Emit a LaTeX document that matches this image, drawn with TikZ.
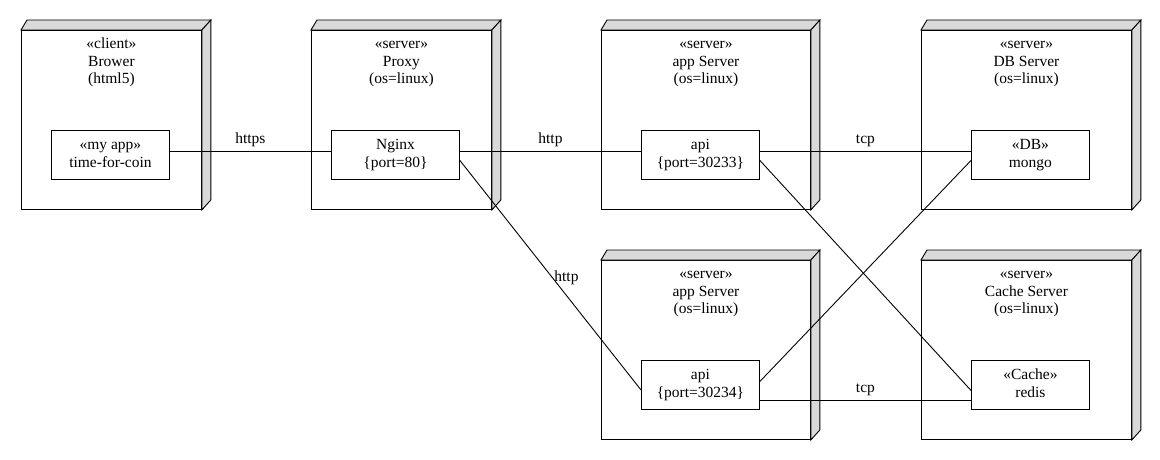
\documentclass[tikz,border=0pt]{standalone}
\usepackage{fontspec}
\setmainfont{Liberation Serif}
\begin{document}
\begin{tikzpicture}[x=1pt,y=-1pt,line width=0.9pt,
  front/.style={draw, fill=white, inner sep=0pt, rectangle},
  side/.style={draw, fill=gray!30, line join=miter},
  title/.style={inner sep=0pt, align=center, anchor=north, font=\fontsize{15.5}{17.5}\selectfont},
  artifact/.style={draw, fill=white, rectangle, inner sep=0pt, align=center, minimum height=49pt, minimum width=118pt, anchor=north west, font=\fontsize{15.5}{17.5}\selectfont},
  conn/.style={draw, line width=0.9pt},
  elabel/.style={inner sep=0pt, font=\fontsize{15.5}{17.5}\selectfont}
]
\useasboundingbox (0,0) rectangle (1160,460);
\fill[white] (0,0) rectangle (1160,460);

\newcommand\depbox[6]{%
  \node[front, minimum width=#4pt, minimum height=#5pt, anchor=north west] (#1) at (#2,#3) {};
  \path[side] (#1.north west) -- ++(6,-10) -- ([shift={(9,-10)}]#1.north east) -- (#1.north east) -- cycle;
  \path[side] (#1.north east) -- ([shift={(9,-10)}]#1.north east) -- ([shift={(9,-10)}]#1.south east) -- (#1.south east) -- cycle;
  \node[title, yshift=-6.25pt] (#1t) at (#1.north) {#6};
}

\depbox{b1}{21}{30}{180}{179}{\strut«client»\\\strut Brower\\\strut(html5)}
\depbox{b2}{311}{30}{180}{179}{\strut«server»\\\strut Proxy\\\strut(os=linux)}
\depbox{b3}{601}{30}{209}{179}{\strut«server»\\\strut app Server\\\strut(os=linux)}
\depbox{b4}{921}{30}{210}{179}{\strut«server»\\\strut DB Server\\\strut(os=linux)}
\depbox{b5}{601}{260}{209}{179}{\strut«server»\\\strut app Server\\\strut(os=linux)}
\depbox{b6}{921}{260}{210}{179}{\strut«server»\\\strut Cache Server\\\strut(os=linux)}

\node[artifact] (c1) at (51,130) {\strut«my app»\\\strut time-for-coin};
\node[artifact, minimum width=128pt] (ng) at (331,130) {\strut Nginx\\\strut\{port=80\}};
\node[artifact] (api1) at (641,130) {\strut api\\\strut\{port=30233\}};
\node[artifact] (mongo) at (971,130) {\strut«DB»\\\strut mongo};
\node[artifact] (api2) at (641,360) {\strut api\\\strut\{port=30234\}};
\node[artifact] (redis) at (971,360) {\strut«Cache»\\\strut redis};

\draw[conn] ([yshift=3.5pt]c1.east) -- node[elabel, midway, above=4pt] {https} ([yshift=3.5pt]ng.west);
\draw[conn] ([yshift=3.5pt]ng.east) -- node[elabel, midway, above=4pt] {http} ([yshift=3.5pt]api1.west);
\draw[conn] ([yshift=-5.5pt]ng.east) -- node[elabel, pos=0.5, xshift=16pt, yshift=-3pt] {http} ([yshift=-5pt]api2.west);
\draw[conn] ([yshift=3.5pt]api1.east) -- node[elabel, midway, above=4pt] {tcp} ([yshift=3.5pt]mongo.west);
\draw[conn] ([yshift=-5.5pt]api1.east) -- ([yshift=-5.5pt]redis.west);
\draw[conn] ([yshift=3.5pt]api2.east) -- ([yshift=-5.5pt]mongo.west);
\draw[conn] ([yshift=-15.5pt]api2.east) -- node[elabel, midway, above=4pt] {tcp} ([yshift=-15.5pt]redis.west);
\end{tikzpicture}
\end{document}
